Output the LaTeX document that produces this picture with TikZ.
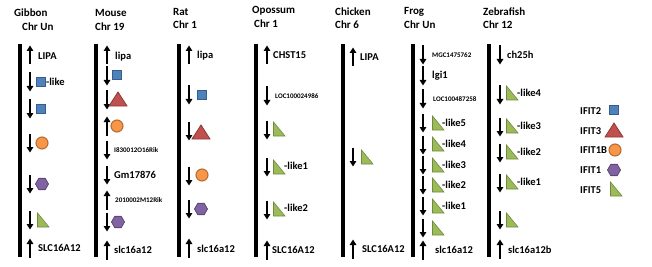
\documentclass[tikz,border=0pt]{standalone}
\usepackage{fontspec}
\setmainfont{Carlito}
\usepackage{xcolor}
\usetikzlibrary{arrows.meta, positioning}

\definecolor{ifblue}{HTML}{4F81BD}
\definecolor{ifblueD}{HTML}{385D8A}
\definecolor{ifred}{HTML}{C0504D}
\definecolor{ifredD}{HTML}{8C3836}
\definecolor{iforange}{HTML}{F79646}
\definecolor{iforangeD}{HTML}{B66D31}
\definecolor{ifpurple}{HTML}{8064A2}
\definecolor{ifpurpleD}{HTML}{5C4776}
\definecolor{ifgreen}{HTML}{9BBB59}
\definecolor{ifgreenD}{HTML}{71893F}

\begin{document}
\begin{tikzpicture}[x=1pt, y=-1pt, >={Triangle[length=5.5pt, width=6.5pt]},
    ifittwo/.pic={\draw[fill=ifblue, draw=ifblueD, line width=0.8pt] (-4.5,-4.5) rectangle (4.5,4.5);},
    ifitthree/.pic={\draw[fill=ifred, draw=ifredD, line width=0.8pt] (-9,7) -- (9,7) -- (0,-7) -- cycle;},
    ifitonebee/.pic={\draw[fill=iforange, draw=iforangeD, line width=1.1pt] (0,0) circle (6pt);},
    ifitone/.pic={\draw[fill=ifpurple, draw=ifpurpleD, line width=0.8pt] (0:6.5pt) \foreach \a in {60,120,...,300} {-- (\a:6.5pt)} -- cycle;},
    ifitfive/.pic={\draw[fill=ifgreen, draw=ifgreenD, line width=0.6pt] (-5.5,-7) -- (-5.5,7) -- (6,7) -- cycle;}]
    % Styles for chromosomes, gene arrows and texts
    \tikzstyle{chrom} = [line width=3.2pt]
    \tikzstyle{gene} = [line width=1.4pt, ->]
    \tikzstyle{ttl} = [anchor=west, inner sep=0pt, font=\fontsize{11}{13}\selectfont\bfseries]
    \tikzstyle{lbl} = [anchor=west, inner sep=0pt, font=\fontsize{10.5}{12}\selectfont\bfseries]
    \tikzstyle{tiny} = [anchor=west, inner sep=0pt, font=\fontsize{7}{8}\selectfont\bfseries]

    \useasboundingbox (0,0) rectangle (652,267);

    % Titles
    \node[ttl] (gib-t1) at (14,13) {Gibbon};
    \node[ttl] (gib-t2) at (22,27) {Chr Un};
    \node[ttl] (mou-t1) at (95,13) {Mouse};
    \node[ttl] (mou-t2) at (95,27) {Chr 19};
    \node[ttl] (rat-t1) at (173,12) {Rat};
    \node[ttl] (rat-t2) at (173,25) {Chr 1};
    \node[ttl] (opo-t1) at (252,11) {Opossum};
    \node[ttl] (opo-t2) at (254,24) {Chr 1};
    \node[ttl] (chi-t1) at (335,12) {Chicken};
    \node[ttl] (chi-t2) at (335,25) {Chr 6};
    \node[ttl] (fro-t1) at (404,12) {Frog};
    \node[ttl] (fro-t2) at (404,25) {Chr Un};
    \node[ttl] (zeb-t1) at (483,12) {Zebrafish};
    \node[ttl] (zeb-t2) at (483,25) {Chr 12};

    % Chromosome bars
    \foreach \x in {20,96,179,256,343,413,489}
        \draw[chrom] (\x,44) -- (\x,257);

    % Gibbon
    \foreach \y/\s in {55/1,82/-1,109/-1,143/-1,184/-1,220/-1,248/1}
        \draw[gene] (30,\y+9.5*\s) -- (30,\y-9.5*\s);
    \node[lbl] (gib-lipa) at (38,56) {LIPA};
    \pic at (41,82) {ifittwo};
    \node[lbl] (gib-like) at (46,82) {-like};
    \pic at (41,109) {ifittwo};
    \pic at (42,143) {ifitonebee};
    \pic at (42,184) {ifitone};
    \pic at (43,220) {ifitfive};
    \node[lbl] (gib-slc) at (38,248) {SLC16A12};

    % Mouse
    \foreach \y/\s in {55/1,76/-1,100/-1,126/1,150/-1,175/-1,200/1,222/-1,250/1}
        \draw[gene] (107,\y+9.5*\s) -- (107,\y-9.5*\s);
    \node[lbl] (mou-lipa) at (115,57) {lipa};
    \pic at (117,75) {ifittwo};
    \pic at (118,99) {ifitthree};
    \pic at (117,126) {ifitonebee};
    \node[tiny] (mou-i83) at (114,150) {I830012O16Rik};
    \node[lbl] (mou-gm) at (114,175) {Gm17876};
    \node[tiny] (mou-201) at (115,200) {2010002M12Rik};
    \pic at (118,222) {ifitone};
    \node[lbl] (mou-slc) at (114,250) {slc16a12};

    % Rat
    \foreach \y/\s in {55/1,95/-1,131/-1,176/-1,209/-1,248/1}
        \draw[gene] (189,\y+9.5*\s) -- (189,\y-9.5*\s);
    \node[lbl] (rat-lipa) at (197,56) {lipa};
    \pic at (202,95) {ifittwo};
    \pic at (201,132) {ifitthree};
    \pic at (202,175) {ifitonebee};
    \pic at (201,209) {ifitone};
    \node[lbl] (rat-slc) at (197,249) {slc16a12};

    % Opossum
    \foreach \y/\s in {55/1,96/-1,130/-1,167/-1,210/-1,250/1}
        \draw[gene] (267,\y+9.5*\s) -- (267,\y-9.5*\s);
    \node[lbl] (opo-chst) at (273,55) {CHST15};
    \node[tiny] (opo-loc) at (275,96) {LOC100024986};
    \pic at (279,129) {ifitfive};
    \pic at (279,167) {ifitfive};
    \node[lbl] (opo-like1) at (284,166) {-like1};
    \pic at (279,209) {ifitfive};
    \node[lbl] (opo-like2) at (284,208) {-like2};
    \node[lbl] (opo-slc) at (272,250) {SLC16A12};

    % Chicken
    \foreach \y/\s in {57/1,157/-1,249/1}
        \draw[gene] (353,\y+9.5*\s) -- (353,\y-9.5*\s);
    \node[lbl] (chi-lipa) at (360,57) {LIPA};
    \pic at (367,157) {ifitfive};
    \node[lbl] (chi-slc) at (362,249) {SLC16A12};

    % Frog
    \foreach \y/\s in {55/-1,76/-1,99/-1,123/-1,145/-1,165/-1,185/-1,206/-1,228/-1,250/1}
        \draw[gene] (423,\y+9.5*\s) -- (423,\y-9.5*\s);
    \node[tiny] (fro-mgc) at (432,55) {MGC1475762};
    \node[lbl] (fro-lgi) at (432,76) {lgi1};
    \node[tiny] (fro-loc) at (433,99) {LOC100487258};
    \foreach \y/\n in {123/5,144/4,165/3,185/2,206/1}{
        \pic at (438,\y) {ifitfive};
        \node[lbl] (fro-like\n) at (442,\y) {-like\n};
    }
    \pic at (438,228) {ifitfive};
    \node[lbl] (fro-slc) at (435,250) {slc16a12};

    % Zebrafish
    \foreach \y/\s in {55/-1,95/-1,127/-1,153/-1,183/-1,220/-1,249/1}
        \draw[gene] (500,\y+9.5*\s) -- (500,\y-9.5*\s);
    \node[lbl] (zeb-ch25h) at (507,55) {ch25h};
    \foreach \y/\n in {93/4,126/3,152/2,182/1}{
        \pic at (512,\y) {ifitfive};
        \node[lbl] (zeb-like\n) at (517,\y) {-like\n};
    }
    \pic at (512,220) {ifitfive};
    \node[lbl] (zeb-slc) at (508,250) {slc16a12b};

    % Legend
    \node[lbl] (leg-2) at (580,111) {IFIT2};
    \pic at (614,110) {ifittwo};
    \node[lbl] (leg-3) at (580,131) {IFIT3};
    \pic at (614,130) {ifitthree};
    \node[lbl] (leg-1b) at (580,150) {IFIT1B};
    \pic at (615,150) {ifitonebee};
    \node[lbl] (leg-1) at (580,170) {IFIT1};
    \pic at (614,170) {ifitone};
    \node[lbl] (leg-5) at (580,190) {IFIT5};
    \pic at (616,189) {ifitfive};
\end{tikzpicture}
\end{document}
